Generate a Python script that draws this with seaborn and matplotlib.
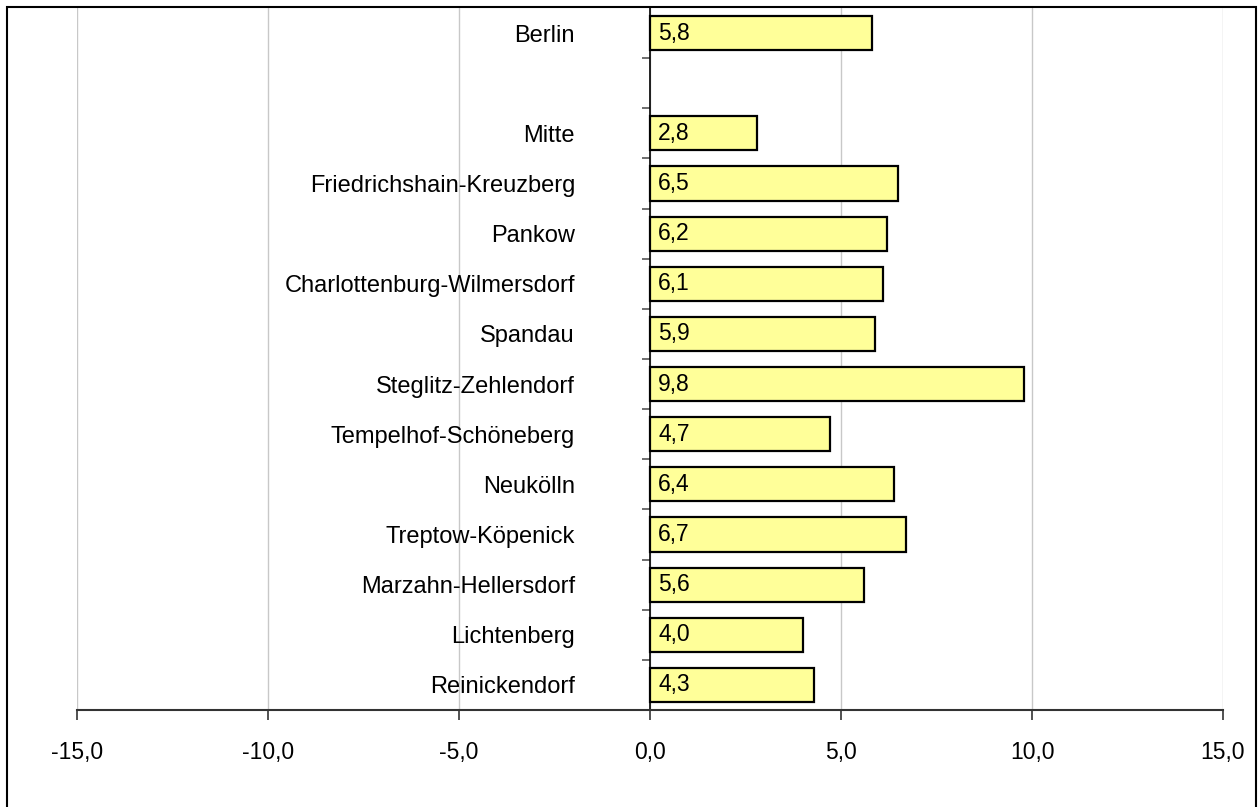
import matplotlib
matplotlib.use("Agg")
import matplotlib.pyplot as plt
import matplotlib.ticker as mticker
from matplotlib.patches import Rectangle
import numpy as np
import pandas as pd
import seaborn as sns

districts = ["Berlin", " ", "Mitte", "Friedrichshain-Kreuzberg", "Pankow",
             "Charlottenburg-Wilmersdorf", "Spandau", "Steglitz-Zehlendorf",
             "Tempelhof-Schöneberg", "Neukölln", "Treptow-Köpenick",
             "Marzahn-Hellersdorf", "Lichtenberg", "Reinickendorf"]
values = [5.8, np.nan, 2.8, 6.5, 6.2, 6.1, 5.9, 9.8, 4.7, 6.4, 6.7, 5.6, 4.0, 4.3]
x_ticks = [-15, -10, -5, 0, 5, 10, 15]

sns.set_theme(style="white")
plt.rcParams['font.family'] = ['Liberation Sans', 'DejaVu Sans']
plt.rcParams['text.color'] = 'black'
plt.rcParams['xtick.color'] = 'black'
plt.rcParams['ytick.color'] = 'black'
plt.rcParams['xtick.labelcolor'] = 'black'
plt.rcParams['ytick.labelcolor'] = 'black'

df = pd.DataFrame({"district": districts, "value": values})

fig = plt.figure(figsize=(12.6, 8.07), dpi=100)
ax = fig.add_axes([77/1260, 1 - 710/807, (1223-77)/1260, (710-8)/807])

sns.barplot(data=df, y="district", x="value", order=districts, orient="h",
            color="#FFFF99", saturation=1, width=0.68,
            edgecolor="black", linewidth=1.6, ax=ax)

ax.set_xlim(x_ticks[0], x_ticks[-1])
ax.set_ylim(len(districts) - 0.5, -0.5)
ax.set_xlabel("")
ax.set_ylabel("")

# grid
ax.set_xticks(x_ticks)
ax.xaxis.set_major_formatter(mticker.FuncFormatter(lambda v, p: f"{v:.1f}".replace(".", ",")))
ax.grid(axis="x", color="#c8c8c8", linewidth=1)
ax.grid(axis="y", visible=False)
ax.set_axisbelow(True)

# spines
for s in ["top", "right"]:
    ax.spines[s].set_visible(False)
ax.spines["left"].set_position(("data", 0))
ax.spines["left"].set_color("black")
ax.spines["left"].set_linewidth(1.2)
ax.spines["bottom"].set_color("#333333")
ax.spines["bottom"].set_linewidth(1.5)

# y ticks: labels at category centers, tick marks between categories
ax.set_yticks(range(len(districts)))
ax.set_yticklabels(districts)
ax.set_yticks(np.arange(0.5, len(districts) - 0.5, 1), minor=True)
ax.tick_params(axis="y", which="major", length=0, pad=54, labelsize=17, labelcolor="black")
ax.tick_params(axis="y", which="minor", length=6, width=1.2, color="#555555", left=True, direction="out")
ax.tick_params(axis="x", which="major", length=7, width=1.2, color="#333333", bottom=True,
               direction="out", pad=15, labelsize=16.5, labelcolor="black")

# value labels inside bars, left-aligned at the baseline
for i, v in enumerate(values):
    if not np.isnan(v):
        ax.annotate(f"{v:.1f}".replace(".", ","), xy=(0, i), xytext=(6, 0),
                    textcoords="offset points", ha="left", va="center",
                    fontsize=16.5, color="black")

# figure border
fig.patches.append(Rectangle((7/1260, -0.01), (1256-7)/1260, 1 - 7/807 + 0.01,
                             transform=fig.transFigure, fill=False,
                             edgecolor="black", linewidth=1.5))

fig.savefig("out.png", dpi=100)
